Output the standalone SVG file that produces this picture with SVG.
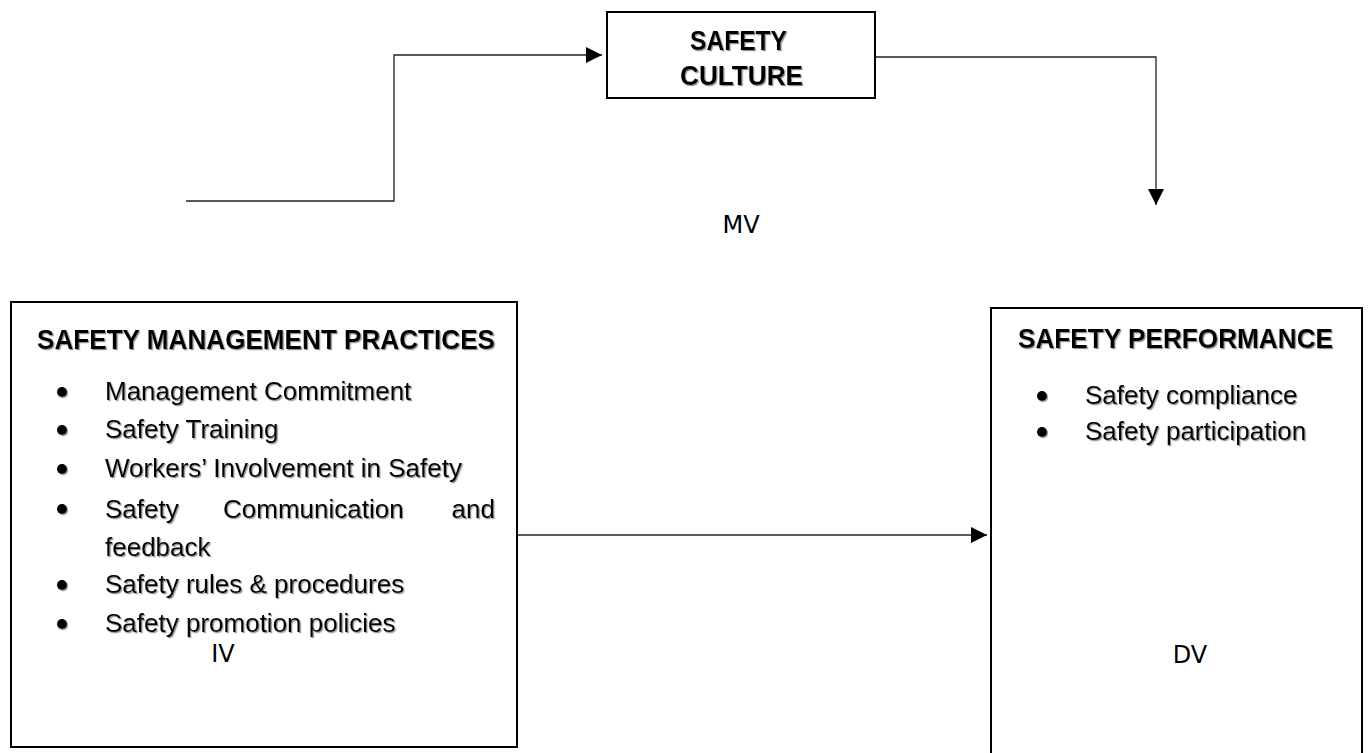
<svg xmlns="http://www.w3.org/2000/svg" width="1368" height="753" viewBox="0 0 1368 753">
<defs>
<filter id="sh" x="-5%" y="-20%" width="110%" height="140%">
<feDropShadow dx="1.2" dy="1.2" stdDeviation="0.6" flood-color="#777" flood-opacity="0.8"/>
</filter>
<marker id="ah" viewBox="0 0 10 10" refX="10" refY="5" markerWidth="16" markerHeight="16" markerUnits="userSpaceOnUse" orient="auto">
<path d="M0,0 L10,5 L0,10 Z" fill="#000"/>
</marker>
</defs>
<style>
.box{fill:#fff;stroke:#000;stroke-width:2}
.title{font-family:"Liberation Sans",Arial,sans-serif;font-weight:bold;font-size:28px;fill:#000;filter:url(#sh)}
.body{font-family:"Liberation Sans",Arial,sans-serif;font-size:26px;fill:#000;filter:url(#sh)}
.lab{font-family:"DejaVu Sans",sans-serif;font-size:24px;fill:#000}
.con{fill:none;stroke:#222;stroke-width:1.3}
.dot{fill:#000;filter:url(#sh)}
</style>
<rect width="1368" height="753" fill="#fff"/>
<g id="connectors">
<path class="con" d="M186,201 H394 V55 H602" marker-end="url(#ah)"/>
<path class="con" d="M875,57 H1156 V205" marker-end="url(#ah)"/>
<path class="con" d="M517,535 H987" marker-end="url(#ah)"/>
</g>
<g id="safety-culture">
<rect class="box" x="607" y="12" width="268" height="86"/>
<text class="title" x="690" y="50" textLength="97" lengthAdjust="spacingAndGlyphs">SAFETY</text>
<text class="title" x="680" y="85" textLength="123" lengthAdjust="spacingAndGlyphs">CULTURE</text>
</g>
<g id="mv">
<text class="lab" x="741" y="233" text-anchor="middle">MV</text>
</g>
<g id="safety-management-practices">
<rect class="box" x="11" y="302" width="506" height="445"/>
<text class="title" x="37" y="349" textLength="458" lengthAdjust="spacingAndGlyphs">SAFETY MANAGEMENT PRACTICES</text>
<circle class="dot" cx="62" cy="392" r="5"/>
<text class="body" x="105" y="400">Management Commitment</text>
<circle class="dot" cx="62" cy="430" r="5"/>
<text class="body" x="105" y="438">Safety Training</text>
<circle class="dot" cx="62" cy="469" r="5"/>
<text class="body" x="105" y="477">Workers’ Involvement in Safety</text>
<circle class="dot" cx="62" cy="509" r="5"/>
<text class="body" x="105" y="518">Safety</text>
<text class="body" x="223" y="518">Communication</text>
<text class="body" x="495" y="518" text-anchor="end">and</text>
<text class="body" x="105" y="556">feedback</text>
<circle class="dot" cx="62" cy="585" r="5"/>
<text class="body" x="105" y="593">Safety rules &amp; procedures</text>
<circle class="dot" cx="62" cy="624" r="5"/>
<text class="body" x="105" y="632">Safety promotion policies</text>
<text class="lab" x="223" y="662" text-anchor="middle">IV</text>
</g>
<g id="safety-performance">
<rect class="box" x="991" y="308" width="371" height="460"/>
<text class="title" x="1018" y="348" textLength="315" lengthAdjust="spacingAndGlyphs">SAFETY PERFORMANCE</text>
<circle class="dot" cx="1042" cy="396" r="5"/>
<text class="body" x="1085" y="404">Safety compliance</text>
<circle class="dot" cx="1042" cy="432" r="5"/>
<text class="body" x="1085" y="440">Safety participation</text>
<text class="lab" x="1190" y="663" text-anchor="middle">DV</text>
</g>
</svg>
